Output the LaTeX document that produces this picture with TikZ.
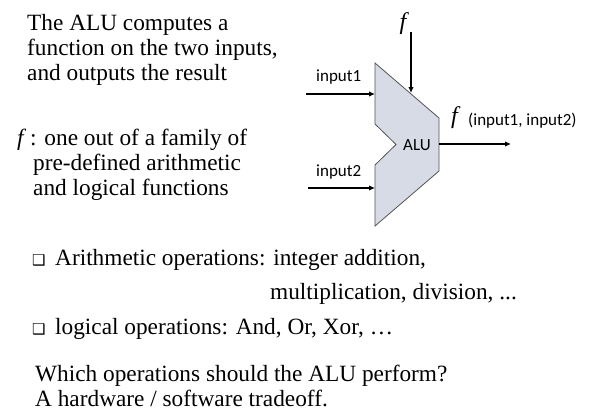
\documentclass[tikz,border=0pt]{standalone}
\usepackage{fontspec}
\setmainfont{Liberation Serif}
\newfontfamily\lblfont{Carlito}
\newfontfamily\symfont{DejaVu Sans}
\usetikzlibrary{arrows.meta}
\definecolor{alufill}{RGB}{214,219,230}
\definecolor{aluline}{RGB}{85,85,85}
\begin{document}
\begin{tikzpicture}[x=1pt, y=-1pt,
    txt/.style={inner sep=0pt, anchor=base west, align=left, font=\fontsize{23.3}{25}\selectfont},
    lbl/.style={inner sep=0pt, font=\lblfont\fontsize{17}{20}\selectfont},
    fsym/.style={inner sep=0pt, font=\fontsize{24}{26}\selectfont\itshape},
    bullet/.style={inner sep=0pt, font=\symfont\fontsize{15}{17}\selectfont},
    wire/.style={line width=1.2pt, -{Latex[length=6pt,width=5.5pt]}}]
            \useasboundingbox (0,0) rectangle (601,413);

            % left text (base = last line)
            \node[txt] (intro) at (27,80.5) {The ALU computes a\\function on the two inputs,\\and outputs the result};
            \node[txt] (fam1) at (17,145) {\textit{f}\,: one out of a family of};
            \node[txt] (fam2) at (33,195) {pre-defined arithmetic\\and logical functions};

            % the ALU
            \coordinate (tl) at (375,63);
            \coordinate (tr) at (439,118);
            \coordinate (br) at (439,171);
            \coordinate (bl) at (375,226);
            \draw[fill=alufill, draw=aluline, line width=0.8pt]
                (tl) -- (tr) -- (br) -- (bl) -- (375,165) -- (396,144.5) -- (375,124) -- cycle;
            \node[lbl] (alu) at (417,145) {ALU};

            \coordinate (in1) at (306,94);
            \coordinate (in2) at (308,188);
            \coordinate (fin) at (411,32);
            \coordinate (out) at (439,144);
            \coordinate (res) at (511,144);
            \draw[wire] (in1) -- (375,94);
            \draw[wire] (in2) -- (375,188);
            \draw[wire] (fin) -- (411,93);
            \draw[wire] (out) -- (res);

            \node[lbl, anchor=west] (lin1) at (316,77) {input1};
            \node[lbl, anchor=west] (lin2) at (316,172) {input2};
            \node[fsym] (ftop) at (403,24) {f};
            \node[fsym, anchor=west] (fout) at (451,118) {f};
            \node[lbl, anchor=west] (args) at (468,121) {(input1, input2)};

            % bullets
            \node[bullet, anchor=base west] (b1) at (32,265) {❑};
            \node[txt] (ar1) at (55,265) {Arithmetic operations: integer addition,};
            \node[txt] (ar2) at (270,299) {multiplication, division, ...};
            \node[bullet, anchor=base west] (b2) at (32,334) {❑};
            \node[txt] (lg) at (55,334) {logical operations: And, Or, Xor, …};

            \node[txt] (q) at (35,406) {Which operations should the ALU perform?\\A hardware / software tradeoff.};
        \end{tikzpicture}
\end{document}
